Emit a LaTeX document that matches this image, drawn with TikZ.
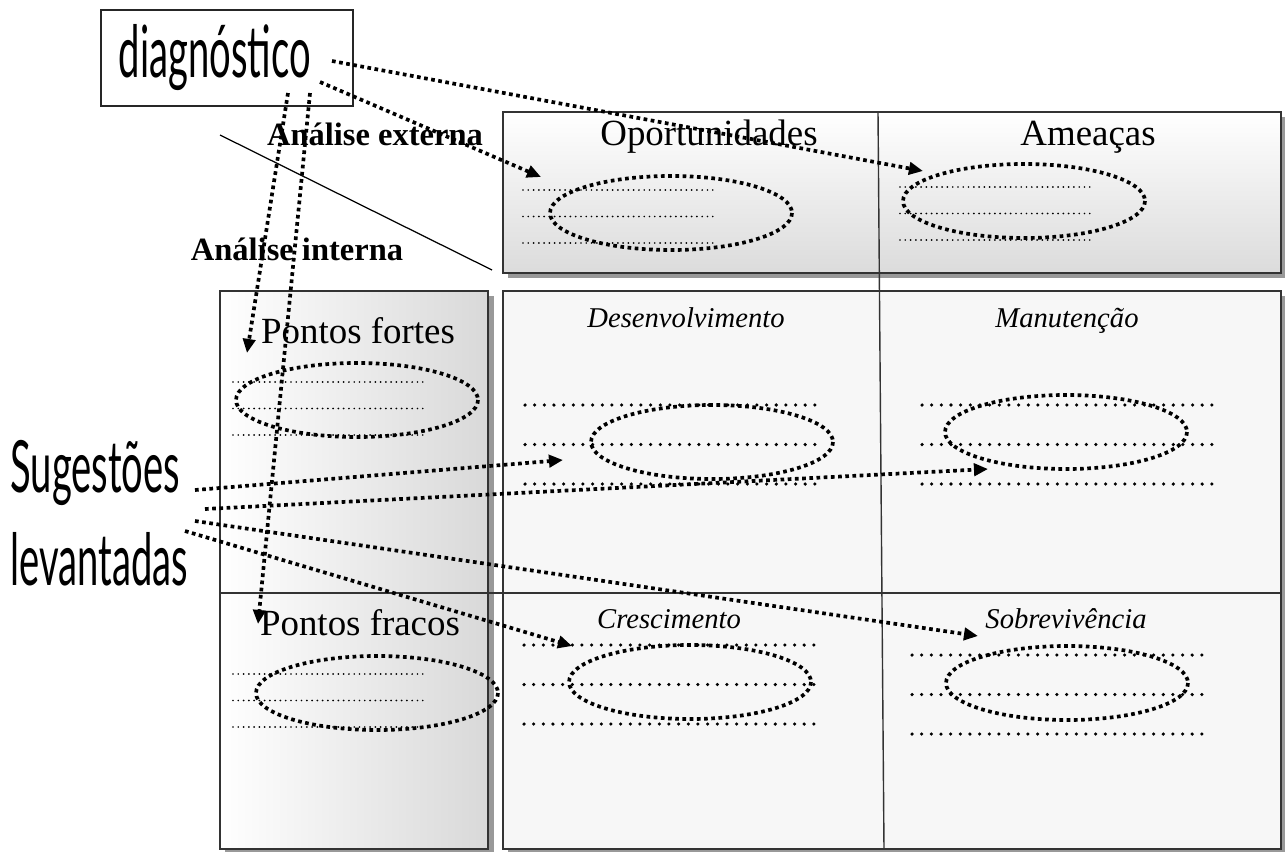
\documentclass[tikz,border=0pt]{standalone}
\usepackage{fontspec}
\setmainfont{Liberation Serif}
\newfontfamily\handfont[FakeStretch=0.53]{Lato}
\usetikzlibrary{arrows.meta,positioning}

\begin{document}
\begin{tikzpicture}[
    x=0.02cm, y=-0.02cm,
    frame/.style={draw=black!80, line width=0.8pt},
    shadow/.style={fill=black!40, draw=none},
    diagbox/.style={draw=black!85, line width=0.9pt, anchor=north west, minimum height=1.92cm,
        text width=4.32cm, inner xsep=0.36cm, align=left, font=\handfont\fontsize{41}{46}\selectfont},
    hand/.style={anchor=base west, inner sep=0pt, font=\handfont\fontsize{41}{46}\selectfont},
    head/.style={anchor=base, inner sep=0pt, font=\fontsize{21}{25}\selectfont},
    side/.style={anchor=base, inner sep=0pt, font=\bfseries\fontsize{18.5}{22}\selectfont},
    quad/.style={anchor=base, inner sep=0pt, font=\itshape\fontsize{16.3}{19}\selectfont},
    fine/.style={line width=1.1pt, line cap=round, dash pattern=on 0pt off 3pt},
    coarse/.style={line width=2pt, line cap=round, dash pattern=on 0pt off 5.5pt},
    ring/.style={line width=2.1pt, dash pattern=on 2.1pt off 2pt},
    arrow/.style={-{Triangle[length=8pt,width=7pt]}, line width=2.1pt, dash pattern=on 2.1pt off 2pt}
]
    \useasboundingbox (0,0) rectangle (1285,852);

    % Boxes
    \fill[shadow] (508,117) rectangle (1286,278);
    \shade[top color=white, bottom color=black!14] (503,112) rectangle (1281,273);
    \draw[frame] (503,112) rectangle (1281,273);
    \fill[shadow] (225,296) rectangle (494,854);
    \shade[left color=white, right color=black!15] (220,291) rectangle (488,849);
    \draw[frame] (220,291) rectangle (488,849);
    \fill[shadow] (508,296) rectangle (1286,854);
    \fill[black!3] (503,291) rectangle (1281,849);
    \draw[frame] (503,291) rectangle (1281,849);
    \draw[frame] (220,593) -- (1281,593);
    \draw[frame] (878,112) -- (884,849);
    \draw[line width=0.7pt] (220,135) -- (492,270);

    % Texts
    \node[diagbox] (diag) at (100,9) {diagnóstico};
    \node[hand] (sug) at (10,492) {Sugestões};
    \node[hand] (lev) at (10,585) {levantadas};
    \node[side] (ext) at (375,145) {Análise externa};
    \node[side] (int) at (297,260) {Análise interna};
    \node[head] (oport) at (709,145) {Oportunidades};
    \node[head] (amea) at (1088,145) {Ameaças};
    \node[head] (fortes) at (358,343) {Pontos fortes};
    \node[head] (fracos) at (360,635) {Pontos fracos};
    \node[quad] (desenv) at (686,327) {Desenvolvimento};
    \node[quad] (manut) at (1067,327) {Manutenção};
    \node[quad] (cresc) at (669,628) {Crescimento};
    \node[quad] (sobrev) at (1066,628) {Sobrevivência};

    % Dotted lines to fill in
    \foreach \x/\y in {523/190, 900/187, 233/382, 233/674}
        \foreach \k in {0,1,2}
            \draw[fine] (\x,{\y+26.5*\k}) -- ++(195,0);
    \foreach \x/\y in {525/405, 922/405, 524/645, 912/655}
        \foreach \k in {0,1,2}
            \draw[coarse] (\x,{\y+39.5*\k}) -- ++(290,0);

    % Rings
    \foreach \x/\y in {671/213, 1024/201, 357/400, 377/693, 712/442, 1066/432, 690/682, 1067/683}
        \draw[ring] (\x,\y) ellipse [x radius=121, y radius=37];

    % Arrow ends
    \coordinate (d1) at (332,61);
    \coordinate (d2) at (320,82);
    \coordinate (d3) at (288,93);
    \coordinate (d4) at (310,93);
    \coordinate (s1) at (195,490);
    \coordinate (s2) at (205,509);
    \coordinate (s3) at (195,521);
    \coordinate (s4) at (185,531);
    \coordinate (tA) at (923,171);
    \coordinate (tO) at (541,177);
    \coordinate (tF) at (247,353);
    \coordinate (tW) at (258,624);
    \coordinate (tD) at (563,460);
    \coordinate (tM) at (988,469);
    \coordinate (tS) at (978,636);
    \coordinate (tC) at (572,646);

    % Arrows
    \draw[arrow] (d1) -- (tA);
    \draw[arrow] (d2) -- (tO);
    \draw[arrow] (d3) -- (tF);
    \draw[arrow] (d4) -- (tW);
    \draw[arrow] (s1) -- (tD);
    \draw[arrow] (s2) -- (tM);
    \draw[arrow] (s3) -- (tS);
    \draw[arrow] (s4) -- (tC);
\end{tikzpicture}
\end{document}
